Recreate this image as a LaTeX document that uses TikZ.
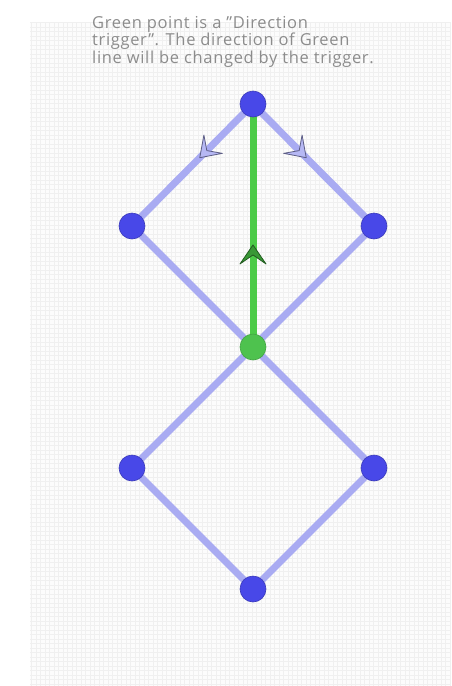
\documentclass[tikz,border=0pt]{standalone}
\usepackage{fontspec}
\setmainfont{Open Sans}[LetterSpace=4,Ligatures=ResetAll]
\usetikzlibrary{decorations.markings}
\definecolor{edgeblue}{HTML}{A9ABF2}
\definecolor{ptblue}{HTML}{4848E8}
\definecolor{ptgreen}{HTML}{4EC24E}
\definecolor{lnGreen}{HTML}{4CCB48}
\definecolor{txtgray}{HTML}{8C8C8C}
\definecolor{gridgray}{HTML}{F0F0F0}
\tikzset{
  pt/.style={circle,minimum size=26pt,inner sep=0pt,fill=ptblue,draw=ptblue!80!black,line width=0.6pt},
  gpt/.style={pt,fill=ptgreen,draw=ptgreen!85!black},
  edge/.style={draw=edgeblue,line width=7pt},
  gedge/.style={draw=lnGreen,line width=7pt},
  chev/.pic={\filldraw[line width=0.8pt,line join=round] (0pt,0pt) -- (-19pt,13pt) -- (-10pt,0pt) -- (-19pt,-13pt) -- cycle;},
  bluearrow/.style={postaction={decorate},decoration={markings,mark=at position #1 with {\pic[transform shape,fill=edgeblue!85!white,draw=edgeblue!55!black]{chev};}}},
  greenarrow/.style={postaction={decorate},decoration={markings,mark=at position #1 with {\pic[transform shape,fill=lnGreen!75!black,draw=lnGreen!45!black]{chev};}}},
  caption/.style={anchor=north west,align=left,text=txtgray,font=\fontsize{16.5}{17.5}\selectfont,inner sep=0pt}
}
\begin{document}
\begin{tikzpicture}[x=1pt,y=-1pt]
\useasboundingbox (0,0) rectangle (451,686);
\fill[white] (0,0) rectangle (451,686);
\fill[gray!2] (30,22) rectangle (451,686);
\draw[gridgray,line width=0.4pt,step=4.5pt] (30,22) grid (451,686);
\node[caption] (cap) at (92,16) {Green point is a "Direction\\trigger". The direction of Green\\line will be changed by the trigger.};
\coordinate (T) at (253,104);
\coordinate (L) at (132,226);
\coordinate (R) at (374,226);
\coordinate (G) at (253,347);
\coordinate (LL) at (132,468);
\coordinate (LR) at (374,468);
\coordinate (B) at (253,589);
\draw[edge] (L) -- (G);
\draw[edge] (R) -- (G);
\draw[edge] (G) -- (LL);
\draw[edge] (G) -- (LR);
\draw[edge] (LL) -- (B);
\draw[edge] (LR) -- (B);
\draw[edge,bluearrow=0.44] (T) -- (L);
\draw[edge,bluearrow=0.44] (T) -- (R);
\draw[gedge,greenarrow=0.42] (G) -- (T);
\node[pt] (nT) at (T) {};
\node[pt] (nL) at (L) {};
\node[pt] (nR) at (R) {};
\node[gpt] (nG) at (G) {};
\node[pt] (nLL) at (LL) {};
\node[pt] (nLR) at (LR) {};
\node[pt] (nB) at (B) {};
\end{tikzpicture}
\end{document}
